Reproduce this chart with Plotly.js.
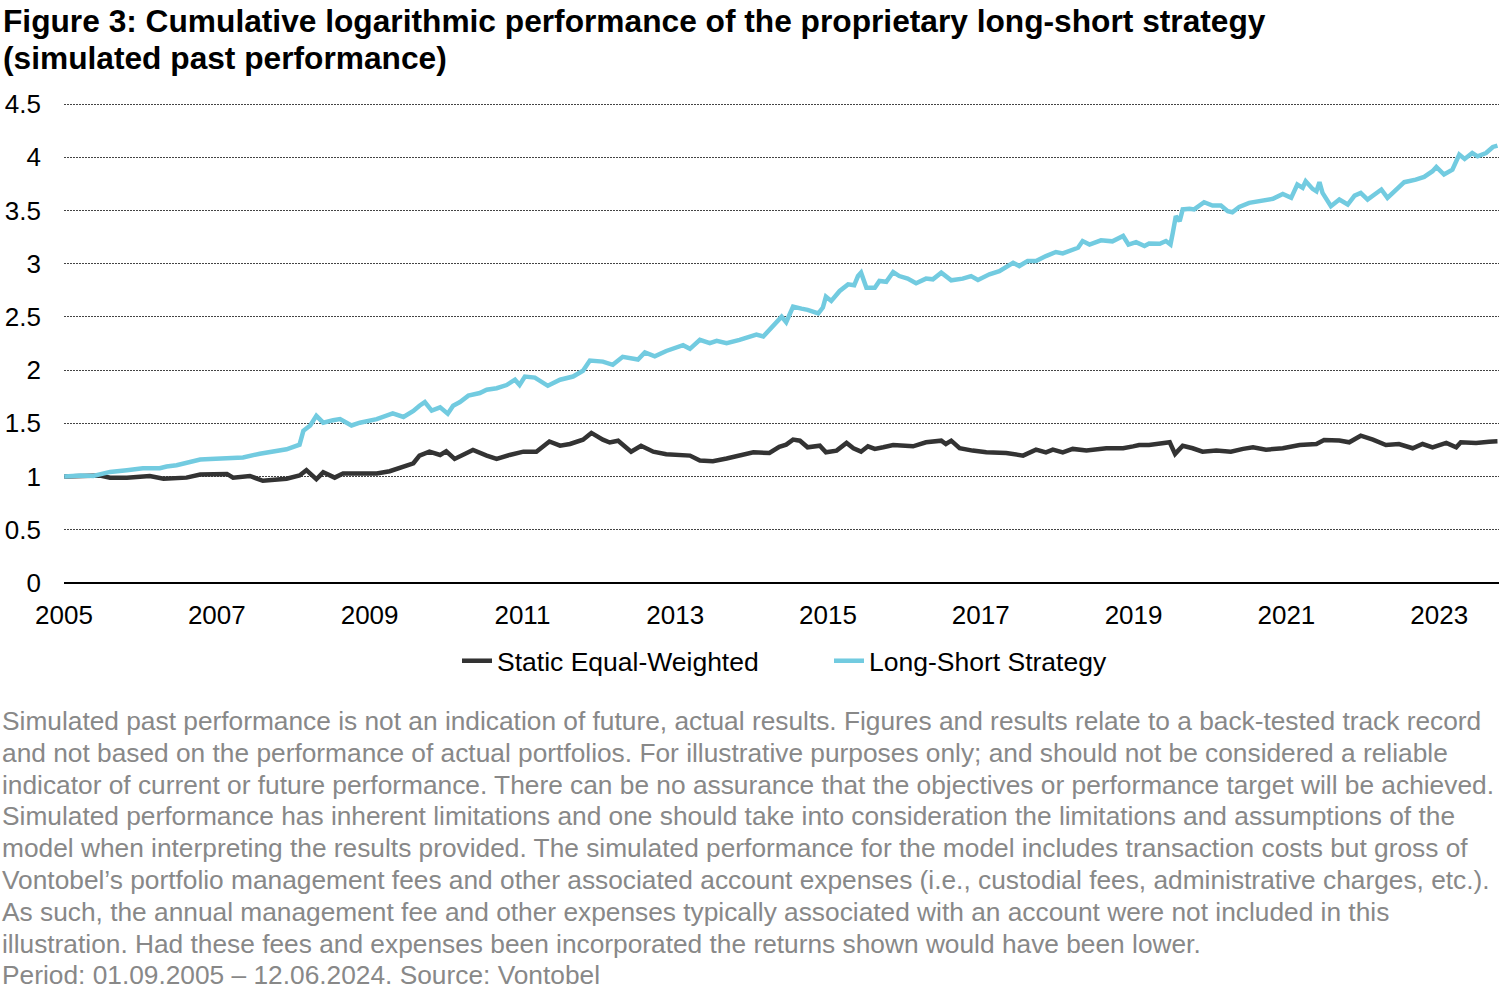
<!DOCTYPE html>
<html>
<head>
<meta charset="utf-8">
<script src="https://cdn.plot.ly/plotly-3.0.1.min.js"></script>
<style>
  html, body { margin: 0; padding: 0; background: #fff; }
  #chart { width: 1500px; height: 990px; }
</style>
</head>
<body>
<div id="chart"></div>
<script>
// Long-Short Strategy (x in decimal years, cumulative log performance)
const lsYears = [2005.67, 2005.88, 2006.05, 2006.27, 2006.49, 2006.70, 2006.92, 2007.01, 2007.14, 2007.36,
  2007.45, 2007.58, 2007.80, 2008.01, 2008.23, 2008.41, 2008.58, 2008.67, 2008.75, 2008.80,
  2008.89, 2008.97, 2009.06, 2009.19, 2009.28, 2009.43, 2009.54, 2009.76, 2009.97, 2010.11,
  2010.24, 2010.32, 2010.39, 2010.48, 2010.59, 2010.69, 2010.76, 2010.85, 2010.96, 2011.11,
  2011.20, 2011.33, 2011.46, 2011.57, 2011.63, 2011.70, 2011.83, 2012.00, 2012.16, 2012.33,
  2012.46, 2012.55, 2012.72, 2012.85, 2012.98, 2013.18, 2013.27, 2013.40, 2013.55, 2013.77,
  2013.86, 2013.99, 2014.12, 2014.21, 2014.34, 2014.51, 2014.73, 2014.82, 2014.95, 2015.06,
  2015.12, 2015.21, 2015.32, 2015.40, 2015.54, 2015.60, 2015.64, 2015.71, 2015.82, 2015.93,
  2016.01, 2016.06, 2016.10, 2016.17, 2016.28, 2016.34, 2016.43, 2016.52, 2016.60, 2016.71,
  2016.82, 2016.95, 2017.04, 2017.15, 2017.28, 2017.43, 2017.54, 2017.63, 2017.78, 2017.91,
  2018.09, 2018.17, 2018.28, 2018.39, 2018.52, 2018.65, 2018.74, 2018.87, 2018.94, 2019.00,
  2019.09, 2019.24, 2019.39, 2019.53, 2019.60, 2019.70, 2019.81, 2019.87, 2020.01, 2020.09,
  2020.15, 2020.18, 2020.22, 2020.27, 2020.31, 2020.40, 2020.46, 2020.59, 2020.70, 2020.81,
  2020.90, 2020.96, 2021.05, 2021.18, 2021.31, 2021.49, 2021.62, 2021.73, 2021.81, 2021.88,
  2021.92, 2022.01, 2022.06, 2022.10, 2022.14, 2022.21, 2022.25, 2022.36, 2022.47, 2022.56,
  2022.64, 2022.73, 2022.84, 2022.91, 2022.99, 2023.08, 2023.21, 2023.36, 2023.47, 2023.58,
  2023.63, 2023.73, 2023.84, 2023.93, 2024.00, 2024.10, 2024.17, 2024.28, 2024.37, 2024.43];
const lsValues = [1.00, 1.01, 1.006, 1.044, 1.06, 1.078, 1.078, 1.094, 1.106, 1.147,
  1.16, 1.166, 1.17, 1.18, 1.215, 1.24, 1.256, 1.28, 1.30, 1.43,
  1.48, 1.57, 1.506, 1.53, 1.54, 1.48, 1.506, 1.54, 1.594, 1.56,
  1.616, 1.666, 1.70, 1.62, 1.65, 1.59, 1.666, 1.70, 1.76, 1.785,
  1.816, 1.83, 1.86, 1.91, 1.86, 1.94, 1.93, 1.853, 1.91, 1.94,
  1.994, 2.09, 2.08, 2.05, 2.125, 2.10, 2.166, 2.13, 2.18, 2.234,
  2.20, 2.284, 2.253, 2.275, 2.253, 2.284, 2.334, 2.316, 2.41, 2.503,
  2.45, 2.597, 2.578, 2.566, 2.534, 2.588, 2.69, 2.65, 2.744, 2.806,
  2.797, 2.884, 2.916, 2.775, 2.775, 2.838, 2.83, 2.922, 2.884, 2.86,
  2.816, 2.86, 2.853, 2.916, 2.844, 2.86, 2.884, 2.847, 2.90, 2.93,
  3.009, 2.978, 3.025, 3.025, 3.072, 3.11, 3.097, 3.128, 3.15, 3.213,
  3.18, 3.22, 3.21, 3.26, 3.18, 3.203, 3.166, 3.19, 3.188, 3.213,
  3.181, 3.29, 3.447, 3.40, 3.51, 3.516, 3.51, 3.578, 3.547, 3.547,
  3.494, 3.484, 3.534, 3.572, 3.588, 3.61, 3.656, 3.619, 3.744, 3.713,
  3.775, 3.703, 3.68, 3.766, 3.666, 3.578, 3.54, 3.603, 3.556, 3.64,
  3.666, 3.603, 3.66, 3.697, 3.619, 3.68, 3.766, 3.79, 3.816, 3.869,
  3.909, 3.838, 3.884, 4.025, 3.984, 4.04, 4.009, 4.04, 4.097, 4.11];

// Static Equal-Weighted benchmark
const ewYears = [2005.67, 2006.14, 2006.27, 2006.49, 2006.79, 2006.97, 2007.27, 2007.45, 2007.80, 2007.88,
  2008.10, 2008.27, 2008.58, 2008.75, 2008.84, 2008.97, 2009.06, 2009.21, 2009.32, 2009.76,
  2009.93, 2010.11, 2010.24, 2010.32, 2010.45, 2010.59, 2010.67, 2010.78, 2011.02, 2011.20,
  2011.33, 2011.50, 2011.68, 2011.85, 2012.02, 2012.16, 2012.29, 2012.46, 2012.57, 2012.72,
  2012.81, 2012.92, 2013.09, 2013.22, 2013.38, 2013.55, 2013.73, 2013.86, 2013.99, 2014.16,
  2014.34, 2014.51, 2014.69, 2014.90, 2015.03, 2015.12, 2015.21, 2015.30, 2015.40, 2015.56,
  2015.64, 2015.78, 2015.91, 2016.00, 2016.10, 2016.19, 2016.28, 2016.39, 2016.52, 2016.78,
  2016.95, 2017.15, 2017.21, 2017.28, 2017.39, 2017.56, 2017.74, 2018.00, 2018.22, 2018.39,
  2018.52, 2018.61, 2018.74, 2018.87, 2019.05, 2019.31, 2019.53, 2019.66, 2019.74, 2019.87,
  2020.01, 2020.14, 2020.21, 2020.31, 2020.44, 2020.57, 2020.75, 2020.94, 2021.10, 2021.23,
  2021.40, 2021.62, 2021.84, 2022.06, 2022.16, 2022.36, 2022.49, 2022.64, 2022.80, 2022.97,
  2023.14, 2023.32, 2023.45, 2023.58, 2023.76, 2023.89, 2023.95, 2024.15, 2024.32, 2024.43];
const ewValues = [1.00, 1.01, 0.99, 0.99, 1.006, 0.98, 0.99, 1.02, 1.025, 0.99,
  1.006, 0.96, 0.98, 1.01, 1.06, 0.975, 1.04, 0.99, 1.03, 1.03,
  1.05, 1.10, 1.125, 1.197, 1.234, 1.203, 1.237, 1.166, 1.25, 1.197,
  1.166, 1.203, 1.234, 1.234, 1.33, 1.29, 1.306, 1.347, 1.41, 1.347,
  1.32, 1.337, 1.234, 1.29, 1.234, 1.21, 1.206, 1.197, 1.15, 1.144,
  1.17, 1.203, 1.228, 1.222, 1.28, 1.30, 1.347, 1.337, 1.275, 1.29,
  1.228, 1.244, 1.316, 1.266, 1.234, 1.284, 1.26, 1.275, 1.297, 1.284,
  1.322, 1.337, 1.306, 1.337, 1.266, 1.244, 1.228, 1.222, 1.197, 1.253,
  1.228, 1.253, 1.228, 1.26, 1.244, 1.266, 1.266, 1.284, 1.297, 1.297,
  1.306, 1.322, 1.213, 1.29, 1.266, 1.234, 1.244, 1.234, 1.26, 1.275,
  1.253, 1.266, 1.297, 1.306, 1.344, 1.338, 1.322, 1.384, 1.347, 1.297,
  1.306, 1.266, 1.306, 1.275, 1.316, 1.275, 1.322, 1.316, 1.328, 1.331];

// x labels sit on the anniversary of the start date (September)
const tickPositions = [2005.667, 2007.667, 2009.667, 2011.667, 2013.667, 2015.667, 2017.667, 2019.667, 2021.667, 2023.667];
const tickLabels = ['2005', '2007', '2009', '2011', '2013', '2015', '2017', '2019', '2021', '2023'];

const titleLines = [
  'Figure 3: Cumulative logarithmic performance of the proprietary long-short strategy',
  '(simulated past performance)'
];

const footnoteLines = [
  'Simulated past performance is not an indication of future, actual results. Figures and results relate to a back-tested track record',
  'and not based on the performance of actual portfolios. For illustrative purposes only; and should not be considered a reliable',
  'indicator of current or future performance. There can be no assurance that the objectives or performance target will be achieved.',
  'Simulated performance has inherent limitations and one should take into consideration the limitations and assumptions of the',
  'model when interpreting the results provided. The simulated performance for the model includes transaction costs but gross of',
  'Vontobel\u2019s portfolio management fees and other associated account expenses (i.e., custodial fees, administrative charges, etc.).',
  'As such, the annual management fee and other expenses typically associated with an account were not included in this',
  'illustration. Had these fees and expenses been incorporated the returns shown would have been lower.',
  'Period: 01.09.2005 \u2013 12.06.2024. Source: Vontobel'
];

const FONT = 'Liberation Sans, Arial, sans-serif';

// plot area in pixels
const PL = 64, PR = 1499, PT = 103, PB = 583;
const px2x = p => (p - PL) / (PR - PL);
const px2y = p => (PB - p) / (PB - PT);

const data = [
  {
    x: ewYears,
    y: ewValues,
    mode: 'lines',
    name: 'Static Equal-Weighted',
    line: { color: '#333333', width: 4.5 }
  },
  {
    x: lsYears,
    y: lsValues,
    mode: 'lines',
    name: 'Long-Short Strategy',
    line: { color: '#72CBE0', width: 4.5 }
  }
];

const annotations = [];
titleLines.forEach((t, i) => {
  annotations.push({
    xref: 'paper', yref: 'paper',
    x: px2x(1), xanchor: 'left',
    y: px2y(21 + i * 37), yanchor: 'middle',
    showarrow: false, align: 'left',
    text: '<b>' + t + '</b>',
    font: { family: FONT, size: 31.7, color: '#000' }
  });
});
footnoteLines.forEach((t, i) => {
  annotations.push({
    xref: 'paper', yref: 'paper',
    x: px2x(0), xanchor: 'left',
    y: px2y(721 + i * 31.8), yanchor: 'middle',
    showarrow: false, align: 'left',
    text: t,
    font: { family: FONT, size: 26.3, color: '#888888' }
  });
});

const layout = {
  width: 1500,
  height: 990,
  paper_bgcolor: '#fff',
  plot_bgcolor: '#fff',
  font: { family: FONT, color: '#000', size: 26 },
  margin: { l: PL, r: 1500 - PR, t: PT, b: 990 - PB },
  showlegend: true,
  legend: {
    orientation: 'h',
    x: px2x(457),
    xanchor: 'left',
    y: px2y(661),
    yanchor: 'middle',
    font: { family: FONT, size: 26.5, color: '#000' },
    entrywidth: 327,
    entrywidthmode: 'pixels',
    tracegroupgap: 0
  },
  xaxis: {
    range: [2005.667, 2024.45],
    tickmode: 'array',
    tickvals: tickPositions,
    ticktext: tickLabels,
    showgrid: false,
    zeroline: false,
    showline: false,
    ticks: '',
    ticklabelstandoff: 14,
    tickfont: { family: FONT, size: 26, color: '#000' }
  },
  yaxis: {
    range: [0, 4.51],
    tickmode: 'array',
    tickvals: [0, 0.5, 1, 1.5, 2, 2.5, 3, 3.5, 4, 4.5],
    ticktext: ['0', '0.5', '1', '1.5', '2', '2.5', '3', '3.5', '4', '4.5'],
    showgrid: true,
    gridcolor: '#444',
    gridwidth: 1,
    griddash: '1.5px,1.5px',
    zeroline: true,
    zerolinecolor: '#000',
    zerolinewidth: 2,
    showline: false,
    ticks: '',
    ticklabelstandoff: 22,
    tickfont: { family: FONT, size: 26, color: '#000' }
  },
  annotations: annotations
};

Plotly.newPlot('chart', data, layout, { displayModeBar: false, staticPlot: true });
</script>
</body>
</html>
